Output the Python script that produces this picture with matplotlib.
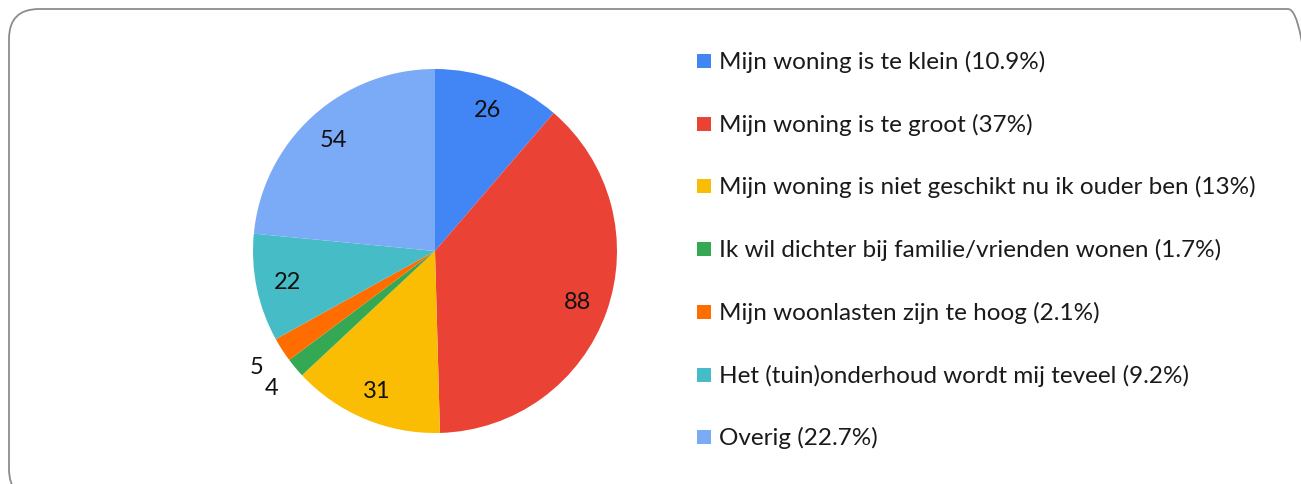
import numpy as np
import matplotlib.pyplot as plt
from matplotlib.patches import FancyBboxPatch, Rectangle
from matplotlib.transforms import IdentityTransform

## Data
labels = ["Mijn woning is te klein (10.9%)",
          "Mijn woning is te groot (37%)",
          "Mijn woning is niet geschikt nu ik ouder ben (13%)",
          "Ik wil dichter bij familie/vrienden wonen (1.7%)",
          "Mijn woonlasten zijn te hoog (2.1%)",
          "Het (tuin)onderhoud wordt mij teveel (9.2%)",
          "Overig (22.7%)"]
values = [26, 88, 31, 4, 5, 22, 54]
colors = ["#4285F4", "#EA4335", "#FBBC04", "#34A853", "#FF6D01", "#46BDC6", "#7BAAF7"]

plt.rcParams['font.family'] = ['Lato', 'DejaVu Sans']

W, H = 1301, 485
fig = plt.figure(figsize=(W/100, H/100), dpi=100)

# rounded frame (pixel coords, runs off right and bottom edges)
frame = FancyBboxPatch((9, -15), 1309, H - 10 + 15,
                       boxstyle="round,pad=0,rounding_size=30",
                       transform=IdentityTransform(), facecolor="none",
                       edgecolor="#8c8c8c", linewidth=1.3, zorder=-1)
fig.patches.append(frame)

## Pie
cx, cy, r = 435, 252, 182
ax = fig.add_axes([(cx - r)/W, (H - cy - r)/H, 2*r/W, 2*r/H])
wedges, _ = ax.pie(values, colors=colors, startangle=90, counterclock=False,
                   wedgeprops=dict(linewidth=0))
ax.set_xlim(-1, 1)
ax.set_ylim(-1, 1)
ax.set_aspect('auto')

for w, v in zip(wedges, values):
    ang = np.deg2rad((w.theta1 + w.theta2) / 2)
    frac = v / sum(values)
    d = 0.83 if frac > 0.04 else 1.17
    ax.text(d*np.cos(ang), d*np.sin(ang), str(v), ha='center', va='center',
            fontsize=17, color="#111111")

## Legend
y0, dy = 62, 62.7
for i, (lab, c) in enumerate(zip(labels, colors)):
    y = y0 + i*dy
    fig.patches.append(Rectangle((697/W, 1 - (y + 7)/H), 14/W, 14/H,
                                 transform=fig.transFigure, facecolor=c,
                                 edgecolor='none'))
    fig.text(719/W, 1 - y/H, lab, ha='left', va='center', fontsize=17.5,
             color="#1a1a1a")

fig.savefig("out.png", dpi=100)
